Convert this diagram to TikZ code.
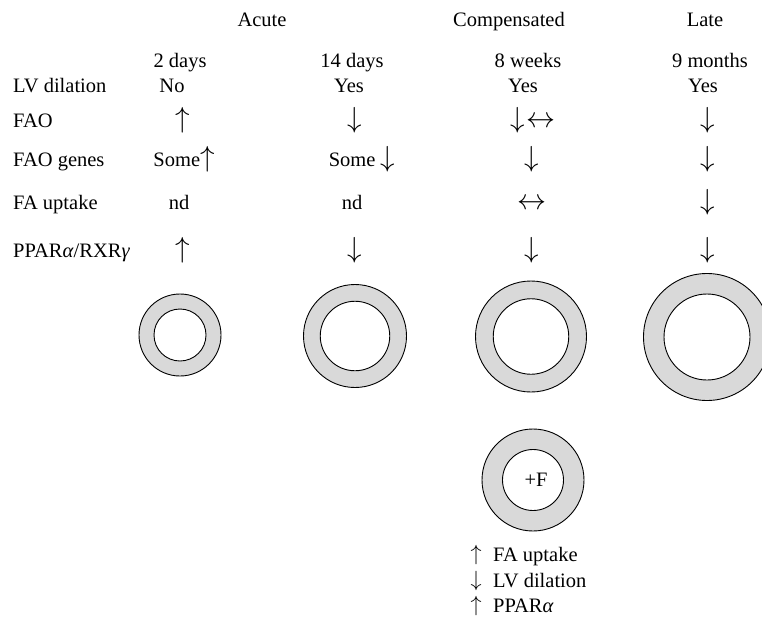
\documentclass[tikz,border=0pt]{standalone}
\usepackage{fontspec}
\usepackage{graphicx}
\setmainfont{Liberation Serif}
\newcommand\upa{\scalebox{2.9}{\normalsize$\uparrow$}}
\newcommand\dna{\scalebox{2.9}{\normalsize$\downarrow$}}
\newcommand\lra{\scalebox{2.9}{\normalsize$\leftrightarrow$}}
\newcommand\supa{\scalebox{2.2}{\normalsize$\uparrow$}}
\newcommand\sdna{\scalebox{2.2}{\normalsize$\downarrow$}}
\definecolor{ringgray}{RGB}{217,217,217}
\tikzset{
  txt/.style={inner sep=0pt, anchor=base, font=\fontsize{20.5}{23}\selectfont},
  lbl/.style={txt, anchor=base west},
  outerring/.style={circle, draw=black, line width=0.9pt, fill=ringgray, inner sep=0pt},
  innerring/.style={circle, draw=black, line width=0.9pt, fill=white, inner sep=0pt},
}
\begin{document}
\begin{tikzpicture}[x=1pt,y=-1pt]
\useasboundingbox (0,0) rectangle (762,618);
% headers
\node[txt] (hAcute) at (262,27) {Acute};
\node[txt] (hComp) at (509,27) {Compensated};
\node[txt] (hLate) at (705,27) {Late};
% time row
\node[txt] (t1) at (180,67) {2 days};
\node[txt] (t2) at (352,67) {14 days};
\node[txt] (t3) at (528,67) {8 weeks};
\node[txt] (t4) at (710,67) {9 months};
% row labels
\node[lbl] (lLV) at (13,92) {LV dilation};
\node[lbl] (lFAO) at (13,127) {FAO};
\node[lbl] (lGenes) at (13,166) {FAO genes};
\node[lbl] (lFA) at (13,209) {FA uptake};
\node[lbl] (lPPAR) at (13,257) {PPAR\textit{α}/RXR\textit{γ}};
% LV dilation row
\node[txt] (lv1) at (172,92) {No};
\node[txt] (lv2) at (349,92) {Yes};
\node[txt] (lv3) at (523,92) {Yes};
\node[txt] (lv4) at (703,92) {Yes};
% FAO row
\node[txt] (fao1) at (183,127) {\upa};
\node[txt] (fao2) at (355,127) {\dna};
\node[txt] (fao3) at (533,127) {\dna\hspace{1pt}\lra};
\node[txt] (fao4) at (708,127) {\dna};
% FAO genes row
\node[txt] (g1) at (184,166) {Some\upa};
\node[txt] (g2) at (362,166) {Some \dna};
\node[txt] (g3) at (532,166) {\dna};
\node[txt] (g4) at (708,166) {\dna};
% FA uptake row
\node[txt] (fa1) at (179,209) {nd};
\node[txt] (fa2) at (352,209) {nd};
\node[txt] (fa3) at (532,209) {\lra};
\node[txt] (fa4) at (708,209) {\dna};
% PPAR row
\node[txt] (p1) at (183,257) {\upa};
\node[txt] (p2) at (355,257) {\dna};
\node[txt] (p3) at (532,257) {\dna};
\node[txt] (p4) at (708,257) {\dna};
% rings
\node[outerring, minimum size=82pt] (r1) at (180,335) {};
\node[innerring, minimum size=52pt] (r1i) at (r1) {};
\node[outerring, minimum size=103pt] (r2) at (355,336) {};
\node[innerring, minimum size=69.5pt] (r2i) at (r2) {};
\node[outerring, minimum size=111pt] (r3) at (531,336.5) {};
\node[innerring, minimum size=75.5pt] (r3i) at (r3) {};
\node[outerring, minimum size=127pt] (r4) at (707,337) {};
\node[innerring, minimum size=86pt] (r4i) at (r4) {};
\node[outerring, minimum size=102pt] (r5) at (533,480) {};
\node[innerring, minimum size=61pt] (r5i) at (r5) {};
\node[txt] (plusF) at (536,486) {+F};
% bottom list
\node[txt] (b1a) at (476,560) {\supa};
\node[lbl] (b1t) at (493,561) {FA uptake};
\node[txt] (b2a) at (476,586) {\sdna};
\node[lbl] (b2t) at (493,587) {LV dilation};
\node[txt] (b3a) at (476,611) {\supa};
\node[lbl] (b3t) at (493,612) {PPAR\textit{α}};
\end{tikzpicture}
\end{document}
